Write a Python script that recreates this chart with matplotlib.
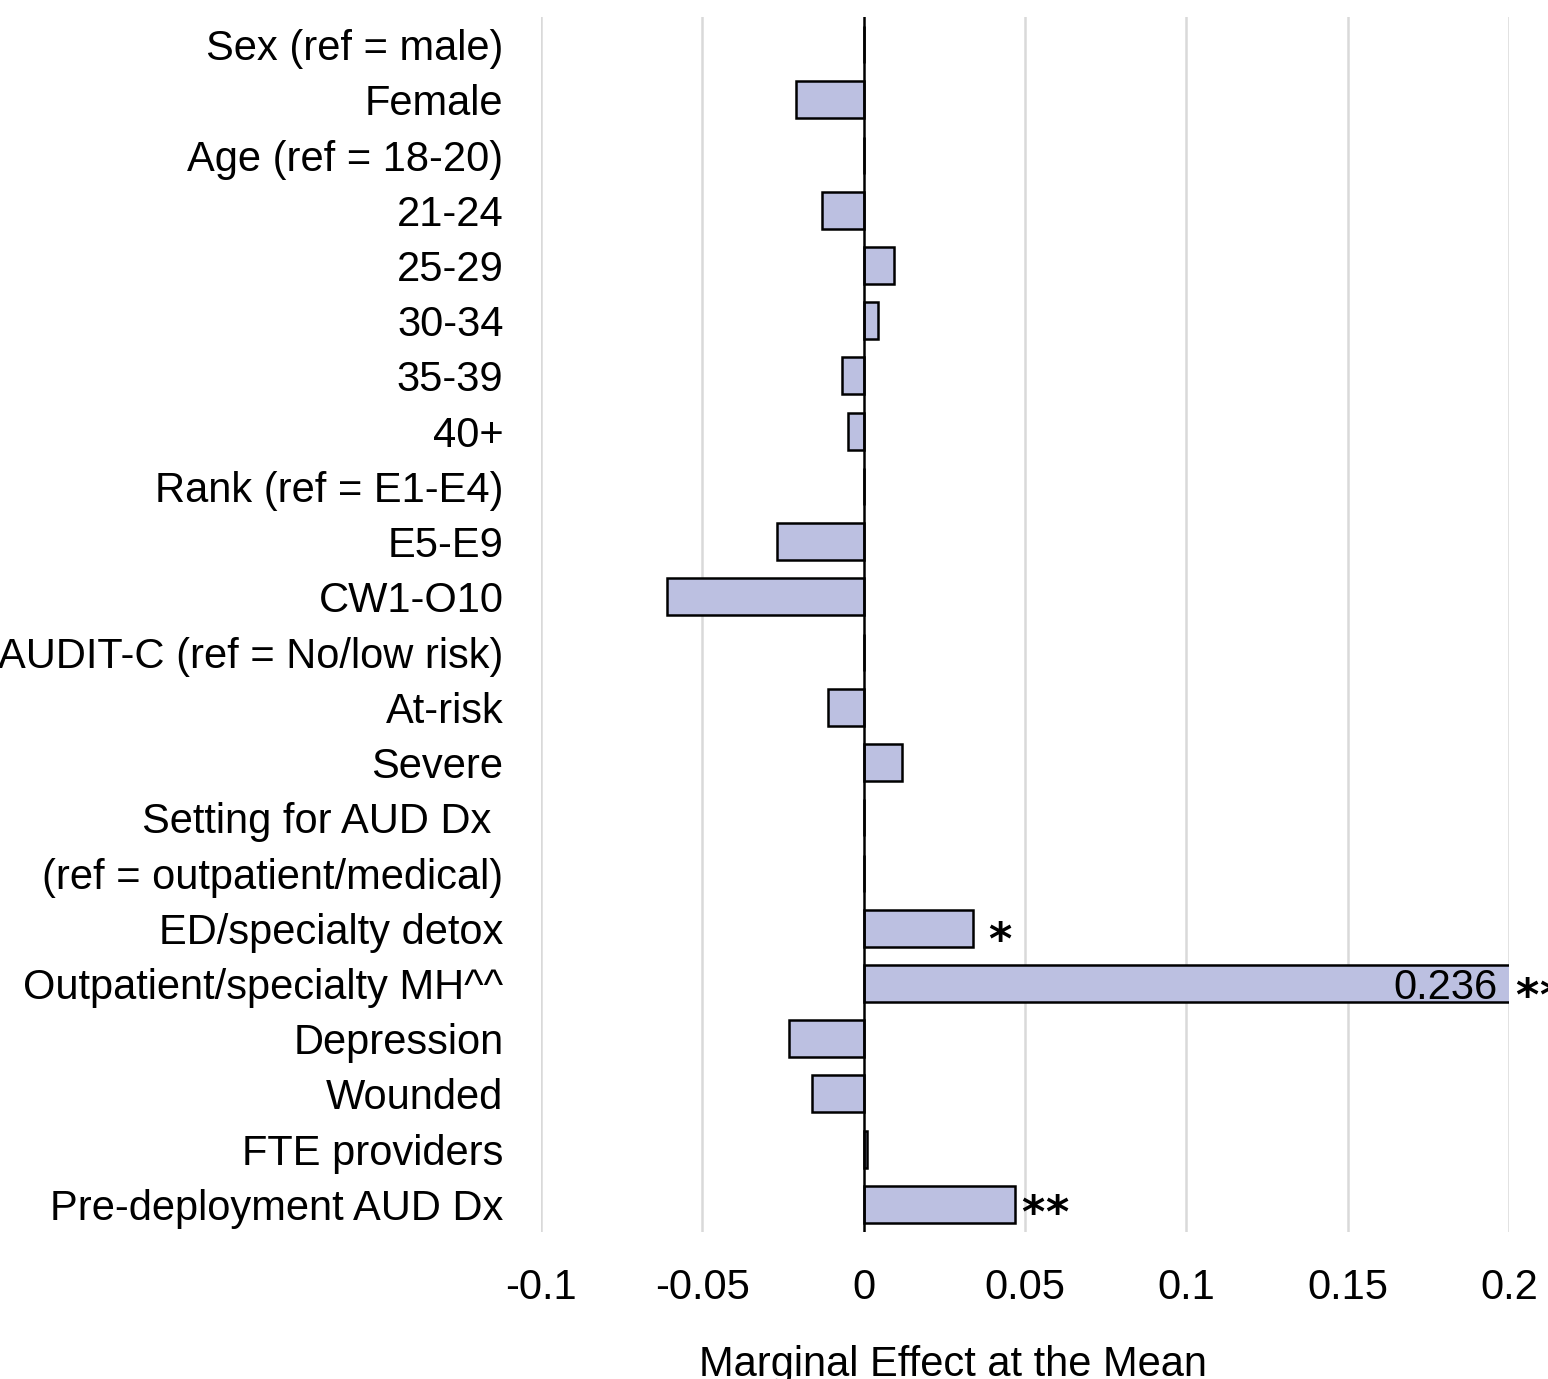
import numpy as np
import matplotlib
matplotlib.use("Agg")
import matplotlib.pyplot as plt

plt.rcParams['font.family'] = ['Liberation Sans', 'DejaVu Sans']

# 数据
labels = ["Sex (ref = male)", "Female", "Age (ref = 18-20)", "21-24", "25-29",
          "30-34", "35-39", "40+", "Rank (ref = E1-E4)", "E5-E9", "CW1-O10",
          "AUDIT-C (ref = No/low risk)", "At-risk", "Severe",
          "Setting for AUD Dx ", "(ref = outpatient/medical)",
          "ED/specialty detox", "Outpatient/specialty MH^^", "Depression",
          "Wounded", "FTE providers", "Pre-deployment AUD Dx"]
values = [np.nan, -0.021, np.nan, -0.013, 0.0093, 0.0043, -0.0068, -0.005,
          np.nan, -0.027, -0.061, np.nan, -0.011, 0.012, np.nan, np.nan,
          0.034, 0.236, -0.023, -0.016, 0.001, 0.047]
stars = ["", "", "", "", "", "", "", "", "", "", "", "", "", "", "", "",
         "*", "**", "", "", "", "**"]
xticks = [-0.1, -0.05, 0, 0.05, 0.1, 0.15, 0.2]
xtick_labels = ["-0.1", "-0.05", "0", "0.05", "0.1", "0.15", "0.2"]

fig = plt.figure(figsize=(15.48, 13.79), dpi=100)
ax = fig.add_axes([541/1548, 1-1232/1379, (1509-541)/1548, (1232-17)/1379])

y = np.arange(len(labels))
ax.barh(y, np.nan_to_num(values), height=0.67, color='#BCC0E1',
        edgecolor='black', linewidth=1.8, zorder=3)

ax.set_xlim(-0.1, 0.2)
ax.set_ylim(len(labels) - 0.5, -0.5)
ax.set_yticks(y)
ax.set_yticklabels(labels, fontsize=30)
ax.set_xticks(xticks)
ax.set_xticklabels(xtick_labels, fontsize=30)
ax.tick_params(axis='y', length=0, pad=27)
ax.tick_params(axis='x', length=0, pad=26)

for s in ax.spines.values():
    s.set_visible(False)
for t in xticks:
    if t != 0:
        ax.axvline(t, color='#D9D9D9', linewidth=1.8, zorder=1)
ax.axvline(0, color='black', linewidth=1.8, zorder=4)


def put_stars(st, x, i, dx, dy):
    # 每个星号单独画，间距与原图一致
    for k, ch in enumerate(st):
        ax.annotate(ch, xy=(x, i), xytext=(dx + k * 17.3, -dy),
                    textcoords='offset points', ha='left', va='baseline',
                    fontsize=32, fontweight='bold', family='DejaVu Sans',
                    annotation_clip=False)


# 数值标签和显著性星号
xmax = xticks[-1]
for i, (v, st) in enumerate(zip(values, stars)):
    if np.isnan(v):
        continue
    if v > xmax:
        # 超出坐标范围的柱子：在柱内写数值
        ax.annotate(f"{v:.3f}", xy=(xmax, i), xytext=(-8, -3),
                    textcoords='offset points', ha='right', va='center',
                    fontsize=30, zorder=5)
        put_stars(st, xmax, i, 4.3, 19.1)
    elif st == "*":
        put_stars(st, v, i, 10.5, 18.4)
    elif st:
        put_stars(st, v, i, 4.3, 16.2)

fig.text(953/1548, 1-1365/1379, "Marginal Effect at the Mean", ha='center',
         va='center', fontsize=30)

fig.savefig("out.png", dpi=100)
